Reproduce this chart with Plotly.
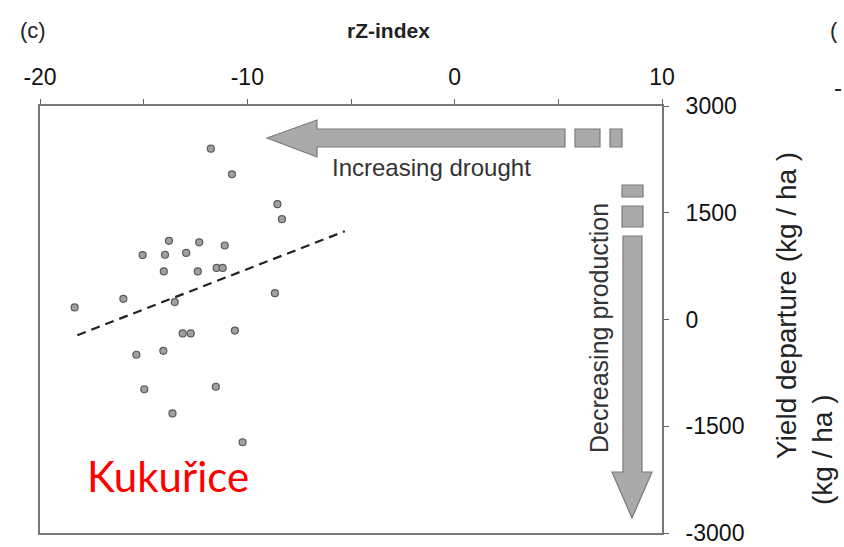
import plotly.graph_objects as go

# ---- data ----
rz_index = [-11.76, -10.74, -8.55, -8.33, -13.78, -12.32, -11.09, -15.05, -13.97, -12.95,
            -14.03, -12.39, -11.48, -11.19, -15.98, -18.33, -13.5, -8.67, -13.12, -12.73,
            -10.6, -15.35, -14.05, -14.97, -11.52, -13.61, -10.23]
yield_dep = [2400, 2040, 1620, 1410, 1105, 1085, 1040, 905, 910, 935,
             675, 675, 725, 725, 290, 170, 245, 370, -195, -195,
             -155, -495, -440, -980, -945, -1320, -1725]
trend_x = [-18.2, -5.3]
trend_y = [-220, 1240]
x_tickvals = [-20, -15, -10, -5, 0, 5, 10]
x_ticktext = ["-20", "", "-10", "", "0", "", "10"]
y_tickvals = [-3000, -1500, 0, 1500, 3000]
y_ticktext = ["-3000", "-1500", "0", "1500", "3000"]

W, H = 844, 547
L, R, T, B = 40, 662, 106, 533


def px(x, y):
    """convert figure pixel position to paper coords"""
    return (x - L) / (R - L), (B - y) / (B - T)


def path(points):
    s = ""
    for i, (x, y) in enumerate(points):
        xp, yp = px(x, y)
        s += ("M" if i == 0 else "L") + f"{xp:.5f},{yp:.5f} "
    return s + "Z"


fig = go.Figure()
fig.add_trace(go.Scatter(
    x=trend_x, y=trend_y, mode="lines",
    line=dict(color="#222222", width=2.2, dash="9px,6px"),
    showlegend=False, hoverinfo="skip"))
fig.add_trace(go.Scatter(
    x=rz_index, y=yield_dep, mode="markers",
    marker=dict(size=7, color="#a0a0a0", line=dict(color="#5a5a5a", width=1.2)),
    showlegend=False))

fill = "#aaaaaa"
edge = "#7a7a7a"
shapes = []
# horizontal arrow (increasing drought)
shapes.append(dict(type="path", xref="paper", yref="paper",
                   path=path([(267, 138), (317, 120), (317, 129), (565, 129),
                              (565, 147), (317, 147), (317, 157)]),
                   fillcolor=fill, line=dict(color=edge, width=1.2)))
for x0, x1 in [(575, 600), (610, 622)]:
    a = px(x0, 129); b = px(x1, 147)
    shapes.append(dict(type="rect", xref="paper", yref="paper",
                       x0=a[0], y0=a[1], x1=b[0], y1=b[1],
                       fillcolor=fill, line=dict(color=edge, width=1.2)))
# vertical arrow (decreasing production)
for y0, y1 in [(185, 197), (206, 227)]:
    a = px(622, y0); b = px(643, y1)
    shapes.append(dict(type="rect", xref="paper", yref="paper",
                       x0=a[0], y0=a[1], x1=b[0], y1=b[1],
                       fillcolor=fill, line=dict(color=edge, width=1.2)))
shapes.append(dict(type="path", xref="paper", yref="paper",
                   path=path([(623, 236), (642, 236), (642, 472), (652, 472),
                              (632, 518), (612, 472), (623, 472)]),
                   fillcolor=fill, line=dict(color=edge, width=1.2)))

font_main = "Liberation Sans, Arial, sans-serif"
ann = []


def text(x, y, s, size=18, color="#222222", angle=0, bold=False, family=font_main, xanchor="center"):
    xp, yp = px(x, y)
    ann.append(dict(xref="paper", yref="paper", x=xp, y=yp, text=("<b>" + s + "</b>") if bold else s,
                    showarrow=False, textangle=angle, xanchor=xanchor, yanchor="middle",
                    font=dict(size=size, color=color, family=family)))


text(33, 30, "(c)", size=22)
text(388, 30, "rZ-index", size=21, bold=True)
text(828, 30, "(", size=22, xanchor="left")
text(832, 88, "-", size=24, xanchor="left")
text(431, 167, "Increasing drought", size=24, color="#333333")
text(599, 328, "Decreasing production", size=25, color="#333333", angle=-90)
text(786, 306, "Yield departure (kg / ha )", size=28, angle=-90)
text(822, 450, "(kg / ha )", size=28, angle=-90)
text(168, 476, "Kukuřice", size=42, color="#ff0000", family="Lato, Noto Sans, sans-serif")

fig.update_layout(
    width=W, height=H,
    margin=dict(l=L, r=W - R, t=T, b=H - B),
    paper_bgcolor="white", plot_bgcolor="white",
    shapes=shapes, annotations=ann,
    xaxis=dict(range=[-20, 10], side="top", tickvals=x_tickvals, ticktext=x_ticktext,
               ticks="outside", ticklen=5, tickcolor="#666666", showgrid=False, zeroline=False,
               showline=True, linecolor="#777777", linewidth=2, mirror=True, automargin=False,
               ticklabelstandoff=5,
               tickfont=dict(size=23, color="#111111", family=font_main)),
    yaxis=dict(range=[-3000, 3000], side="right", tickvals=y_tickvals, ticktext=y_ticktext,
               ticks="outside", ticklen=5, tickcolor="#666666", showgrid=False, zeroline=False,
               showline=True, linecolor="#777777", linewidth=2, mirror=True, automargin=False,
               ticklabelstandoff=12,
               tickfont=dict(size=23, color="#111111", family=font_main)),
)

fig.write_html("out.html", config={"displayModeBar": False},
               post_script="document.body.style.margin='0';document.body.style.overflow='hidden';")
